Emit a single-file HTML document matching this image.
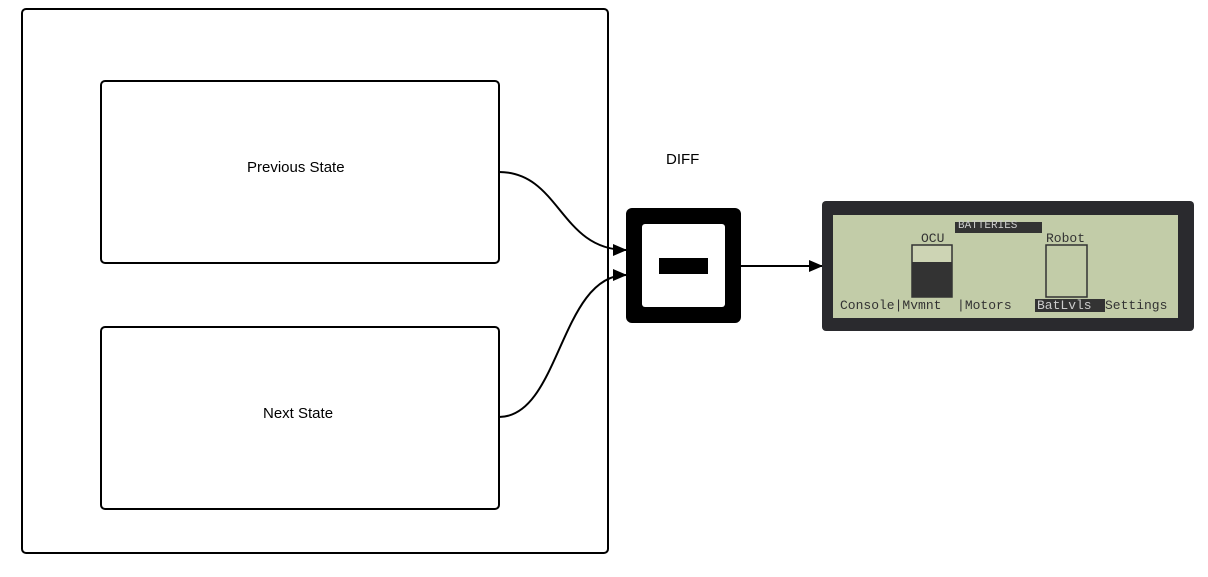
<!DOCTYPE html>
<html><head><style>
body{margin:0;width:1208px;height:577px;background:#fff;overflow:hidden;font-family:"Liberation Sans",sans-serif;}
.b{position:absolute;border:2px solid #000;border-radius:5px;box-sizing:border-box;}
.t{position:absolute;font-size:15px;}
.lcd{position:absolute;font-family:"Liberation Mono",monospace;font-size:13px;color:#333;}
</style></head><body>
<div class="b" style="left:21px;top:8px;width:588px;height:546px"></div>
<div class="b" style="left:100px;top:80px;width:400px;height:184px"></div>
<div class="b" style="left:100px;top:326px;width:400px;height:184px"></div>
<div class="t" style="left:247px;top:159px">Previous State</div>
<div class="t" style="left:263px;top:405px">Next State</div>
<div class="t" style="left:666px;top:151px">DIFF</div>
<svg width="1208" height="577" style="position:absolute;left:0;top:0">
<defs><marker id="a" markerWidth="14" markerHeight="12" refX="13" refY="6" orient="auto" markerUnits="userSpaceOnUse"><path d="M0,0L14,6L0,12z"/></marker></defs>
<path d="M499,172 C560,172 560,250 626,250" fill="none" stroke="#000" stroke-width="2" marker-end="url(#a)"/>
<path d="M499,417 C560,417 560,275 626,275" fill="none" stroke="#000" stroke-width="2" marker-end="url(#a)"/>
<path d="M741,266 L822,266" stroke="#000" stroke-width="2" marker-end="url(#a)"/>
<rect x="626" y="208" width="115" height="115" rx="6" fill="#000"/>
<rect x="642" y="224" width="83" height="83" rx="3" fill="#fff"/>
<rect x="659" y="258" width="49" height="16" fill="#000"/>
<rect x="822" y="201" width="372" height="130" rx="4" fill="#2a2a2e"/>
<rect x="833" y="215" width="345" height="103" fill="#c2cca8"/>
<rect x="955" y="222" width="87" height="11" fill="#333"/>
<rect x="912" y="245" width="40" height="52" fill="#cdd4b4" stroke="#333" stroke-width="1.5"/>
<rect x="912" y="262" width="40" height="35" fill="#333"/>
<rect x="1046" y="245" width="41" height="52" fill="none" stroke="#333" stroke-width="1.5"/>
<rect x="1035" y="299" width="70" height="13" fill="#333"/>
</svg>
<div class="lcd" style="left:958px;top:220px;color:#ccc;font-size:11px">BATTERIES</div>
<div class="lcd" style="left:921px;top:231px">OCU</div>
<div class="lcd" style="left:1046px;top:231px">Robot</div>
<div class="lcd" style="left:840px;top:298px;white-space:pre">Console|Mvmnt  |Motors </div>
<div class="lcd" style="left:1037px;top:298px;color:#ccc">BatLvls</div>
<div class="lcd" style="left:1105px;top:298px">Settings</div>
</body></html>
